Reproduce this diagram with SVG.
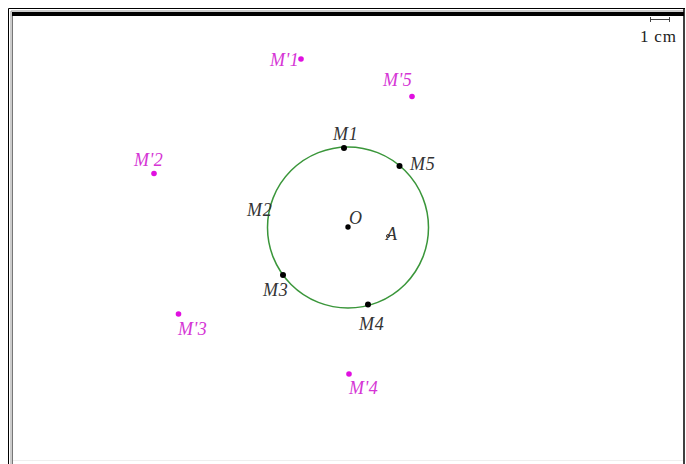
<svg xmlns="http://www.w3.org/2000/svg" width="686" height="464" viewBox="0 0 686 464">
<style>
.lbl{font-family:"Liberation Serif",serif;font-style:italic;font-size:18px;letter-spacing:0.8px;fill:#333}
.mag{font-family:"Liberation Serif",serif;font-style:italic;font-size:18px;letter-spacing:0.4px;fill:#d535d5}
.pt{fill:#000}
.mp{fill:#e010e0}
</style>
<rect x="0" y="0" width="686" height="464" fill="#fff"/>
<g id="frame" fill="none">
<path d="M8.5,464 V8.5 H685" stroke="#000" stroke-width="1"/>
<path d="M11,464 V11 H684" stroke="#999" stroke-width="1"/>
<rect x="12" y="12" width="672" height="4" fill="#000"/>
<line x1="12.5" y1="16" x2="12.5" y2="464" stroke="#777" stroke-width="1"/>
<line x1="684" y1="8" x2="684" y2="464" stroke="#000" stroke-width="1.5"/>
<line x1="13" y1="460.5" x2="683" y2="460.5" stroke="#eee" stroke-width="1"/>
</g>
<g id="scale">
<path d="M650,19.5 H670 M650.5,17 V22 M669.5,17 V22" stroke="#444" stroke-width="1" fill="none"/>
<text x="640" y="42" font-family="Liberation Serif,serif" font-size="17" letter-spacing="0.8" fill="#222">1 cm</text>
</g>
<g id="circle"><circle cx="348" cy="227.5" r="80.5" fill="none" stroke="#3a963a" stroke-width="1.5"/></g>
<g id="O"><circle class="pt" cx="348" cy="227" r="2.7"/><text class="lbl" x="349" y="224">O</text></g>
<g id="A"><circle cx="388" cy="236" r="1.5" fill="none" stroke="#333" stroke-width="1"/><text class="lbl" x="386" y="240">A</text></g>
<g id="M1"><circle class="pt" cx="344" cy="148" r="3"/><text class="lbl" x="333" y="140">M1</text></g>
<g id="M5"><circle class="pt" cx="399.5" cy="166" r="3"/><text class="lbl" x="410" y="170">M5</text></g>
<g id="M2"><text class="lbl" x="247" y="216">M2</text></g>
<g id="M3"><circle class="pt" cx="283" cy="275" r="3"/><text class="lbl" x="263" y="296">M3</text></g>
<g id="M4"><circle class="pt" cx="368" cy="304.5" r="3"/><text class="lbl" x="359" y="330">M4</text></g>
<g id="Mp1"><circle class="mp" cx="301" cy="59" r="2.8"/><text class="mag" x="270" y="66">M'1</text></g>
<g id="Mp5"><circle class="mp" cx="412" cy="96.5" r="2.8"/><text class="mag" x="383" y="86">M'5</text></g>
<g id="Mp2"><circle class="mp" cx="154" cy="173.5" r="2.8"/><text class="mag" x="134" y="166">M'2</text></g>
<g id="Mp3"><circle class="mp" cx="178.5" cy="314" r="2.8"/><text class="mag" x="178" y="335">M'3</text></g>
<g id="Mp4"><circle class="mp" cx="349" cy="374" r="2.8"/><text class="mag" x="349" y="394">M'4</text></g>
</svg>
